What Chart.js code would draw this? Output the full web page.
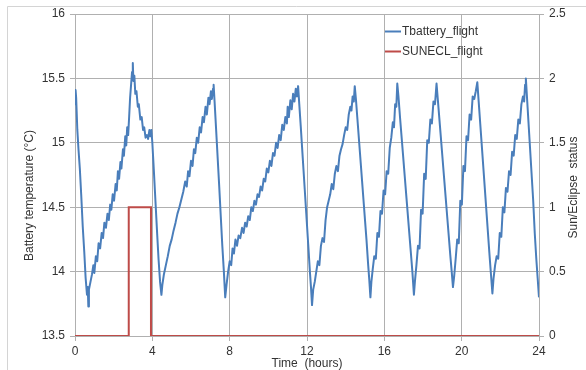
<!DOCTYPE html>
<html><head><meta charset="utf-8">
<script src="https://cdn.jsdelivr.net/npm/chart.js@4/dist/chart.umd.min.js"></script>
<style>html,body{margin:0;padding:0;background:#fff;overflow:hidden}canvas{display:block}</style>
</head><body>
<canvas id="c" width="586" height="370" style="width:586px;height:370px"></canvas>
<script>
// ---- data ----
const flightHours = [
  0.00,0.03,0.06,0.12,0.18,0.25,0.32,0.40,0.48,0.55,0.62,0.66,0.69,0.72,
  0.80,0.88,0.95,1.00,1.08,1.15,1.22,1.30,1.38,1.45,1.52,1.60,1.68,1.75,1.82,1.88,1.95,2.02,2.10,2.16,2.22,2.28,2.35,2.40,2.48,2.53,2.60,2.65,2.70,2.75,
  2.80,2.85,2.90,2.95,2.99,3.02,3.07,3.12,3.18,3.25,3.30,3.38,3.45,3.52,3.58,3.65,3.72,3.78,3.85,3.90,3.95,4.00,4.08,4.16,4.24,4.32,4.40,4.47,4.52,
  4.60,4.70,4.80,4.90,5.00,5.10,5.20,5.30,5.40,5.50,5.60,5.70,5.78,5.85,5.92,6.00,6.08,6.15,6.22,6.30,6.37,6.45,6.52,6.60,6.67,6.75,6.82,6.90,6.96,7.03,7.08,7.14,7.17,7.22,7.30,7.38,7.46,7.55,7.62,7.70,7.77,7.84,
  7.92,8.00,8.08,8.15,8.22,8.30,8.38,8.46,8.55,8.64,8.72,8.80,8.88,8.96,9.04,9.12,9.20,9.28,9.36,9.44,9.52,9.60,9.68,9.76,9.84,9.92,10.00,10.08,10.16,10.24,10.32,10.40,10.48,10.56,10.64,10.72,10.80,10.88,10.96,
  11.00,11.06,11.14,11.21,11.28,11.35,11.42,11.48,11.54,11.60,11.68,11.76,11.84,11.92,12.00,12.08,12.15,12.21,12.26,12.32,
  12.40,12.48,12.56,12.64,12.72,12.80,12.88,12.96,13.04,13.12,13.20,13.28,13.36,13.44,13.52,13.60,13.68,13.76,13.84,13.92,14.00,14.08,14.16,14.24,14.30,14.36,14.42,14.47,14.53,14.60,14.68,14.76,14.84,14.92,15.00,15.08,15.16,15.22,15.28,15.33,
  15.40,15.48,15.56,15.64,15.72,15.80,15.88,15.96,16.04,16.12,16.20,16.28,16.36,16.44,16.50,16.56,16.62,16.67,16.73,16.81,16.89,16.97,17.05,17.13,17.21,17.29,17.37,17.45,17.53,17.58,
  17.66,17.74,17.82,17.90,17.98,18.06,18.14,18.22,18.30,18.38,18.46,18.54,18.62,18.70,18.77,18.85,18.93,19.01,19.09,19.17,19.25,19.33,19.41,19.49,19.55,19.61,
  19.69,19.77,19.85,19.93,20.01,20.09,20.17,20.25,20.33,20.41,20.49,20.57,20.65,20.73,20.81,20.88,20.96,21.04,21.12,21.20,21.28,21.36,21.44,21.52,21.59,21.65,
  21.73,21.81,21.89,21.97,22.05,22.13,22.21,22.29,22.37,22.45,22.53,22.61,22.69,22.77,22.85,22.93,23.01,23.09,23.17,23.23,23.28,23.32,23.38,23.46,23.54,23.62,23.70,23.78,23.86,23.93,24.00
];
const tBatteryFlight = [
  15.30,15.41,15.35,15.10,14.95,14.80,14.60,14.35,14.15,13.95,13.82,13.88,13.73,13.86,
  13.92,13.98,14.05,13.99,14.12,14.08,14.22,14.18,14.30,14.26,14.38,14.34,14.45,14.40,14.52,14.48,14.60,14.55,14.68,14.63,14.78,14.72,14.85,14.80,14.95,14.90,15.05,14.98,15.12,15.06,
  15.20,15.35,15.45,15.55,15.62,15.48,15.52,15.38,15.40,15.28,15.30,15.18,15.20,15.10,15.12,15.04,15.06,15.03,15.10,15.05,15.10,15.00,14.78,14.55,14.32,14.10,13.92,13.82,13.90,
  13.98,14.05,14.12,14.20,14.25,14.32,14.38,14.45,14.50,14.56,14.62,14.70,14.66,14.78,14.74,14.86,14.82,14.95,14.92,15.04,15.00,15.12,15.08,15.20,15.16,15.28,15.22,15.35,15.30,15.40,15.34,15.42,15.45,15.32,15.10,14.88,14.66,14.40,14.20,14.00,13.80,13.90,
  14.00,14.08,14.05,14.18,14.14,14.25,14.20,14.28,14.26,14.34,14.30,14.38,14.35,14.43,14.40,14.50,14.47,14.55,14.52,14.60,14.58,14.66,14.63,14.72,14.70,14.80,14.77,14.86,14.82,14.92,14.90,15.00,14.96,15.06,15.02,15.14,15.10,15.20,15.15,
  15.28,15.20,15.33,15.26,15.38,15.32,15.42,15.36,15.44,15.30,15.12,14.93,14.74,14.55,14.36,14.17,14.00,13.87,13.74,13.86,
  13.92,14.00,14.08,14.05,14.20,14.26,14.23,14.40,14.50,14.55,14.60,14.68,14.64,14.76,14.82,14.78,14.90,14.95,14.99,15.06,15.12,15.10,15.22,15.28,15.25,15.36,15.32,15.44,15.34,15.20,15.04,14.88,14.72,14.56,14.40,14.24,14.06,13.94,13.80,13.92,
  14.02,14.12,14.10,14.30,14.27,14.47,14.45,14.63,14.60,14.78,14.76,14.96,15.04,15.16,15.12,15.30,15.28,15.46,15.36,15.20,15.05,14.90,14.75,14.60,14.45,14.30,14.15,14.00,13.82,13.92,
  14.05,14.20,14.18,14.48,14.45,14.76,14.72,15.02,15.00,15.18,15.15,15.32,15.30,15.46,15.33,15.18,15.03,14.88,14.73,14.58,14.43,14.28,14.13,13.99,13.88,13.96,
  14.10,14.25,14.22,14.55,14.52,14.82,14.78,15.05,15.02,15.22,15.18,15.36,15.34,15.40,15.47,15.32,15.15,14.98,14.81,14.64,14.47,14.30,14.13,13.97,13.83,13.95,
  14.05,14.12,14.10,14.30,14.27,14.50,14.46,14.65,14.62,14.78,14.75,14.93,14.90,15.06,15.03,15.18,15.15,15.30,15.36,15.32,15.45,15.50,15.35,15.15,14.95,14.75,14.55,14.30,14.10,13.95,13.80
];
const sunHours = [0, 2.78, 2.78, 3.93, 3.93, 24];
const sunEclStatus = [0, 0, 1, 1, 0, 0];
const hourTicks = [0, 4, 8, 12, 16, 20, 24];
const tempTicks = [13.5, 14, 14.5, 15, 15.5, 16];
const statusTicks = [0, 0.5, 1, 1.5, 2, 2.5];
const seriesNames = ['Tbattery_flight', 'SUNECL_flight'];
const xTitle = 'Time  (hours)';
const yTitle = 'Battery temperature (°C)';
const y2Title = 'Sun/Eclipse  status';

// ---- styles ----
const FONT = '"Liberation Sans", Arial, sans-serif';
const TEXT = '#333333';
const GRID = '#b0b0b0';
const BLUE = '#4A7EBB';
const RED = '#BE4B48';

const decor = {
  id: 'decor',
  beforeDraw(chart) {
    const ctx = chart.ctx;
    ctx.save();
    ctx.fillStyle = '#fff';
    ctx.fillRect(0, 0, chart.width, chart.height);
    ctx.strokeStyle = '#d4d4d4';
    ctx.lineWidth = 1;
    ctx.beginPath();
    ctx.moveTo(7.5, 370); ctx.lineTo(7.5, 6.5); ctx.lineTo(586, 6.5);
    ctx.stroke();
    ctx.restore();
  },
  afterDraw(chart) {
    const ctx = chart.ctx;
    const ca = chart.chartArea;
    ctx.save();
    ctx.fillStyle = TEXT;
    ctx.font = '12px ' + FONT;
    ctx.textAlign = 'center';
    ctx.textBaseline = 'middle';
    ctx.fillText(xTitle, (ca.left + ca.right) / 2, 364);
    ctx.save(); ctx.translate(30, 195.5); ctx.rotate(-Math.PI / 2); ctx.fillText(yTitle, 0, 0); ctx.restore();
    ctx.save(); ctx.translate(574, 187.5); ctx.rotate(-Math.PI / 2); ctx.fillText(y2Title, 0, 0); ctx.restore();
    // legend
    ctx.textAlign = 'left';
    chart.data.datasets.forEach((ds, i) => {
      const y = 31.5 + 20 * i;
      ctx.strokeStyle = ds.borderColor;
      ctx.lineWidth = 2;
      ctx.beginPath(); ctx.moveTo(385, y); ctx.lineTo(401, y); ctx.stroke();
      ctx.fillStyle = TEXT;
      ctx.fillText(ds.label, 402, y + 0.5);
    });
    ctx.restore();
  }
};

const tickFont = { family: FONT, size: 12 };
new Chart(document.getElementById('c'), {
  type: 'line',
  data: {
    datasets: [
      { label: seriesNames[0], data: flightHours.map((h, i) => ({ x: h, y: tBatteryFlight[i] })),
        yAxisID: 'y', borderColor: BLUE, borderWidth: 2, pointRadius: 0, tension: 0, order: 2, borderJoinStyle: 'round' },
      { label: seriesNames[1], data: sunHours.map((h, i) => ({ x: h, y: sunEclStatus[i] })),
        yAxisID: 'y2', borderColor: RED, borderWidth: 2, pointRadius: 0, tension: 0, order: 1 }
    ]
  },
  options: {
    responsive: false, animation: false, devicePixelRatio: 1,
    layout: { padding: { top: 14, left: 0, right: 0, bottom: 0 } },
    plugins: { legend: { display: false }, tooltip: { enabled: false } },
    scales: {
      x: { type: 'linear', min: 0, max: 24,
        afterBuildTicks(s) { s.ticks = hourTicks.map(v => ({ value: v })); },
        ticks: { callback: v => String(v), padding: 3, color: TEXT, font: tickFont, maxRotation: 0 },
        grid: { color: GRID, tickLength: 5 }, border: { color: GRID },
        afterFit(s) { s.height = 34; } },
      y: { position: 'left', min: 13.5, max: 16,
        afterBuildTicks(s) { s.ticks = tempTicks.map(v => ({ value: v })); },
        ticks: { callback: v => String(v), padding: 5, color: TEXT, font: tickFont },
        grid: { color: GRID, tickLength: 5 }, border: { color: GRID },
        afterFit(s) { s.width = 75; } },
      y2: { position: 'right', min: 0, max: 2.5,
        afterBuildTicks(s) { s.ticks = statusTicks.map(v => ({ value: v })); },
        ticks: { callback: v => String(v), padding: 5, color: TEXT, font: tickFont },
        grid: { color: GRID, tickLength: 5, drawOnChartArea: false }, border: { color: GRID },
        afterFit(s) { s.width = 47; } }
    }
  },
  plugins: [decor]
});
</script>
</body></html>
